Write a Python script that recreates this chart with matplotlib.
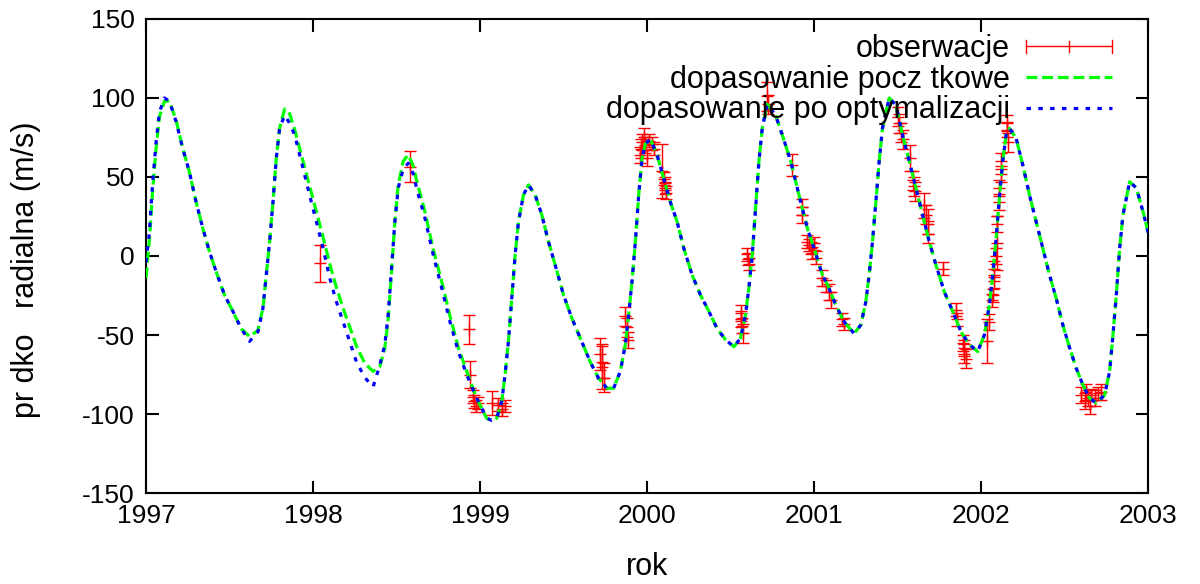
import matplotlib
matplotlib.use("Agg")
import matplotlib.pyplot as plt
from matplotlib.lines import Line2D
from matplotlib.legend_handler import HandlerBase

plt.rcParams['font.family'] = ['Liberation Sans', 'DejaVu Sans']
plt.rcParams['axes.unicode_minus'] = False

# model curves (year, m/s)
curve_t = [1997.00, 1997.02, 1997.04, 1997.06, 1997.08, 1997.11, 1997.14, 1997.18, 1997.22, 1997.26,
           1997.30, 1997.34, 1997.38, 1997.42, 1997.47, 1997.52, 1997.57, 1997.62, 1997.67, 1997.70,
           1997.72, 1997.74, 1997.76, 1997.78, 1997.80, 1997.83, 1997.86, 1997.89, 1997.94, 1997.99,
           1998.02, 1998.06, 1998.10, 1998.14, 1998.18, 1998.22, 1998.26, 1998.31, 1998.36, 1998.40,
           1998.43, 1998.45, 1998.47, 1998.49, 1998.51, 1998.54, 1998.57, 1998.60, 1998.62, 1998.67,
           1998.72, 1998.77, 1998.82, 1998.87, 1998.92, 1998.98, 1999.04, 1999.07, 1999.10, 1999.13,
           1999.15, 1999.17, 1999.19, 1999.21, 1999.23, 1999.26, 1999.29, 1999.33, 1999.37, 1999.41,
           1999.45, 1999.50, 1999.55, 1999.60, 1999.66, 1999.71, 1999.76, 1999.80, 1999.84, 1999.87,
           1999.89, 1999.91, 1999.93, 1999.95, 1999.97, 1999.99, 2000.02, 2000.06, 2000.10, 2000.14,
           2000.18, 2000.22, 2000.27, 2000.32, 2000.37, 2000.42, 2000.47, 2000.52, 2000.56, 2000.59,
           2000.61, 2000.63, 2000.65, 2000.67, 2000.69, 2000.72, 2000.77, 2000.81, 2000.86, 2000.91,
           2000.96, 2001.00, 2001.05, 2001.08, 2001.13, 2001.18, 2001.24, 2001.28, 2001.31, 2001.33,
           2001.35, 2001.37, 2001.39, 2001.41, 2001.45, 2001.49, 2001.53, 2001.57, 2001.61, 2001.65,
           2001.69, 2001.73, 2001.78, 2001.83, 2001.88, 2001.93, 2001.98, 2002.02, 2002.05, 2002.07,
           2002.09, 2002.11, 2002.13, 2002.15, 2002.17, 2002.21, 2002.25, 2002.29, 2002.33, 2002.37,
           2002.41, 2002.45, 2002.49, 2002.53, 2002.57, 2002.61, 2002.65, 2002.69, 2002.74, 2002.77,
           2002.79, 2002.81, 2002.83, 2002.85, 2002.89, 2002.93, 2002.97, 2003.01]

initial_fit = [-14, 10, 42, 68, 88, 98, 98, 86, 68, 53,
               34, 17.5, 2.7, -10, -24.7, -35, -46, -51, -47, -33,
               -12, 9, 34, 62, 81, 93, 90, 80, 60, 40,
               28, 12, -5, -20, -33, -45, -57, -68, -73, -70,
               -58, -40, -10, 22, 45, 60, 64, 57, 48, 28,
               4, -16, -38, -58, -73, -90, -102.7, -104, -102.7, -92,
               -75, -54, -27, 0.6, 21.7, 38.6, 45, 38.6, 26, 9,
               -5.7, -24.7, -39.4, -52, -67, -77.4, -83.7, -83.7, -73, -56,
               -37, -16, 9, 38.6, 62, 71, 74, 64, 49, 34,
               21.7, 4.9, -12, -24.7, -35, -46, -53, -57.4, -52, -37,
               -20, 0.6, 30, 60, 81, 96, 89, 76.6, 60, 38.6,
               17.5, 4.9, -12, -18, -31, -41.6, -49, -43.7, -29, -12,
               9, 34, 60, 81, 100, 95.6, 76.6, 60, 43, 26,
               9, -5.7, -22.6, -35, -48, -56, -60.5, -50, -31, -12,
               11, 37, 60, 76.6, 80.8, 74.5, 57.6, 38.6, 21.7, 4.9,
               -12, -26.8, -43.7, -58, -71, -81.6, -90, -93, -88, -73,
               -50, -24.7, 4.9, 26, 47, 43, 28, 11]

optimized_fit = [-4, 15, 47, 72, 91, 100, 98, 85, 68, 53,
                 34, 17.5, 2.7, -10, -24.7, -35, -46, -54, -48, -33,
                 -12, 9, 34, 62, 81, 89, 84, 76.6, 55.5, 34,
                 21.7, 4.9, -14, -29, -41.6, -54, -67, -77, -82.7, -69,
                 -56, -37, -8, 21.7, 43, 55, 58.7, 52, 43, 24,
                 0.6, -20, -41.6, -60.5, -75, -90, -102.7, -104, -102.7, -92,
                 -75, -54, -27, 0.6, 21.7, 38.6, 45, 38.6, 26, 9,
                 -5.7, -24.7, -39.4, -52, -67, -77.4, -83.7, -83.7, -73, -56,
                 -37, -16, 9, 38.6, 62, 71, 74, 64, 49, 34,
                 21.7, 4.9, -12, -24.7, -35, -46, -53, -57.4, -52, -37,
                 -20, 0.6, 30, 60, 81, 96, 89, 76.6, 60, 38.6,
                 17.5, 4.9, -12, -18, -31, -41.6, -49, -43.7, -29, -12,
                 9, 34, 60, 81, 100, 95.6, 76.6, 60, 43, 26,
                 9, -5.7, -22.6, -35, -48, -56, -60.5, -50, -31, -12,
                 11, 37, 60, 76.6, 80.8, 74.5, 57.6, 38.6, 21.7, 4.9,
                 -12, -26.8, -43.7, -58, -71, -81.6, -90, -93, -88, -73,
                 -50, -24.7, 4.9, 26, 47, 43, 28, 11]

# observations (year, velocity, error)
obs_t = [1998.04, 1998.58, 1998.935, 1998.94, 1998.955, 1998.965, 1998.975, 1998.985, 1999.07, 1999.11,
         1999.13, 1999.15, 1999.72, 1999.73, 1999.73, 1999.74, 1999.87, 1999.88, 1999.885, 1999.96,
         1999.965, 1999.97, 1999.98, 1999.99, 2000.00, 2000.01, 2000.03, 2000.04, 2000.09, 2000.10,
         2000.105, 2000.11, 2000.115, 2000.56, 2000.565, 2000.57, 2000.575, 2000.60, 2000.605, 2000.61,
         2000.72, 2000.725, 2000.87, 2000.925, 2000.93, 2000.96, 2000.97, 2000.98, 2000.99, 2001.00,
         2001.01, 2001.05, 2001.07, 2001.09, 2001.10, 2001.17, 2001.18, 2001.50, 2001.51, 2001.52,
         2001.53, 2001.575, 2001.59, 2001.60, 2001.605, 2001.66, 2001.67, 2001.68, 2001.685, 2001.77,
         2001.85, 2001.855, 2001.89, 2001.895, 2001.90, 2001.91, 2002.037, 2002.05, 2002.067, 2002.07,
         2002.075, 2002.08, 2002.087, 2002.097, 2002.097, 2002.107, 2002.107, 2002.117, 2002.117, 2002.155,
         2002.157, 2002.16, 2002.60, 2002.62, 2002.63, 2002.64, 2002.65, 2002.66, 2002.68, 2002.70,
         2002.72]
obs_v = [-4.6, 56.5, -46.4, -75, -89, -92, -95, -93, -93, -94,
         -97, -95, -62, -67, -70, -77, -38, -45, -53, 64,
         68, 72, 75, 70, 62, 73, 71, 68, 54, 49,
         46, 43, 40, -36, -40, -44, -49, 1, -2, -5,
         101, 96, 57.6, 31, 26, 9, 7, 5, 2, 8,
         -1, -14, -19, -23, -28, -40, -43, 88, 84, 78,
         74, 62, 48, 44, 41, 32, 26, 22, 14, -8,
         -34, -40, -55, -58, -62, -65, -54, -42, -28, -25,
         -16, -8, 0, 8, 20, 34, 43, 52, 60, 84,
         80, 72, -88, -92, -86, -90, -95, -88, -90, -87,
         -86]
obs_err = [11.6, 9.8, 9, 8.7, 4, 4, 4, 4, 7.7, 4,
           4, 4, 10, 10, 14, 9, 6, 6, 5, 5,
           6, 5, 6, 5, 5, 4, 4, 4, 17, 4,
           4, 4, 4, 5, 5, 5, 6, 4, 4, 4,
           9, 6, 6.9, 5, 5, 4, 4, 4, 4, 4,
           4, 5.3, 4, 5, 5, 4, 4, 6, 6, 6,
           6, 8, 6, 6, 6, 8, 6, 8, 6, 4,
           4, 4, 5, 5, 6, 6, 14, 5, 4, 4,
           4, 5, 5, 17, 5, 5, 5, 5, 5, 5,
           5, 6, 5, 5, 5, 5, 5, 4, 5, 4,
           5]

x_ticks = [1997, 1998, 1999, 2000, 2001, 2002, 2003]
y_ticks = [-150, -100, -50, 0, 50, 100, 150]

green_dash = (0, (3.4, 1.5))
blue_dot = (0, (1.4, 2.3))


class HandlerGnuErr(HandlerBase):
    # gnuplot-style key sample: horizontal line with three ticks
    def create_artists(self, legend, orig_handle, xdescent, ydescent,
                       width, height, fontsize, trans):
        y = height / 2 - ydescent
        x0, x1 = -xdescent, width - xdescent
        xm = (x0 + x1) / 2
        arts = [Line2D([x0, x1], [y, y], color='red', lw=1, transform=trans)]
        for xx, h in [(x0, 4.5), (xm, 4.0), (x1, 4.5)]:
            arts.append(Line2D([xx, xx], [y - h, y + h], color='red', lw=1, transform=trans))
        return arts


fig = plt.figure(figsize=(12, 5.84), dpi=100)
ax = fig.add_axes([0.1217, 0.1558, 0.8350, 0.8117])

ax.errorbar(obs_t, obs_v, yerr=obs_err, fmt='+', color='#ff0000', ms=9, mew=1,
            elinewidth=1, capsize=4.3, capthick=1, zorder=2)
ax.plot(curve_t, initial_fit, color='#00ff00', lw=2.3, linestyle=green_dash, zorder=3)
ax.plot(curve_t, optimized_fit, color='#0000ff', lw=2.3, linestyle=blue_dot, zorder=4)

ax.set_xlim(1997, 2003)
ax.set_ylim(-150, 150)
ax.set_xticks(x_ticks)
ax.set_yticks(y_ticks)
ax.tick_params(direction='in', length=9, width=1.5, top=True, right=True,
               labelsize=19, pad=8)
for s in ax.spines.values():
    s.set_linewidth(1.5)

ax.set_xlabel('rok', fontsize=22)
ax.set_ylabel('pr dko   radialna (m/s)', fontsize=22)
ax.xaxis.set_label_coords(0.5, -0.125)
ax.yaxis.set_label_coords(-0.105, 0.47)

h_obs = Line2D([], [], color='red')
h_init = Line2D([], [], color='#00ff00', lw=2.3, linestyle=green_dash)
h_opt = Line2D([], [], color='#0000ff', lw=2.3, linestyle=blue_dot)
ax.legend([h_obs, h_init, h_opt],
          ['obserwacje', 'dopasowanie pocz tkowe', 'dopasowanie po optymalizacji'],
          handler_map={h_obs: HandlerGnuErr()},
          loc='upper right', frameon=False, markerfirst=False, fontsize=22,
          handlelength=2.8, handletextpad=0.55, labelspacing=0.02,
          borderpad=0, borderaxespad=0, bbox_to_anchor=(0.964, 0.968))

fig.savefig('out.png', dpi=100)
